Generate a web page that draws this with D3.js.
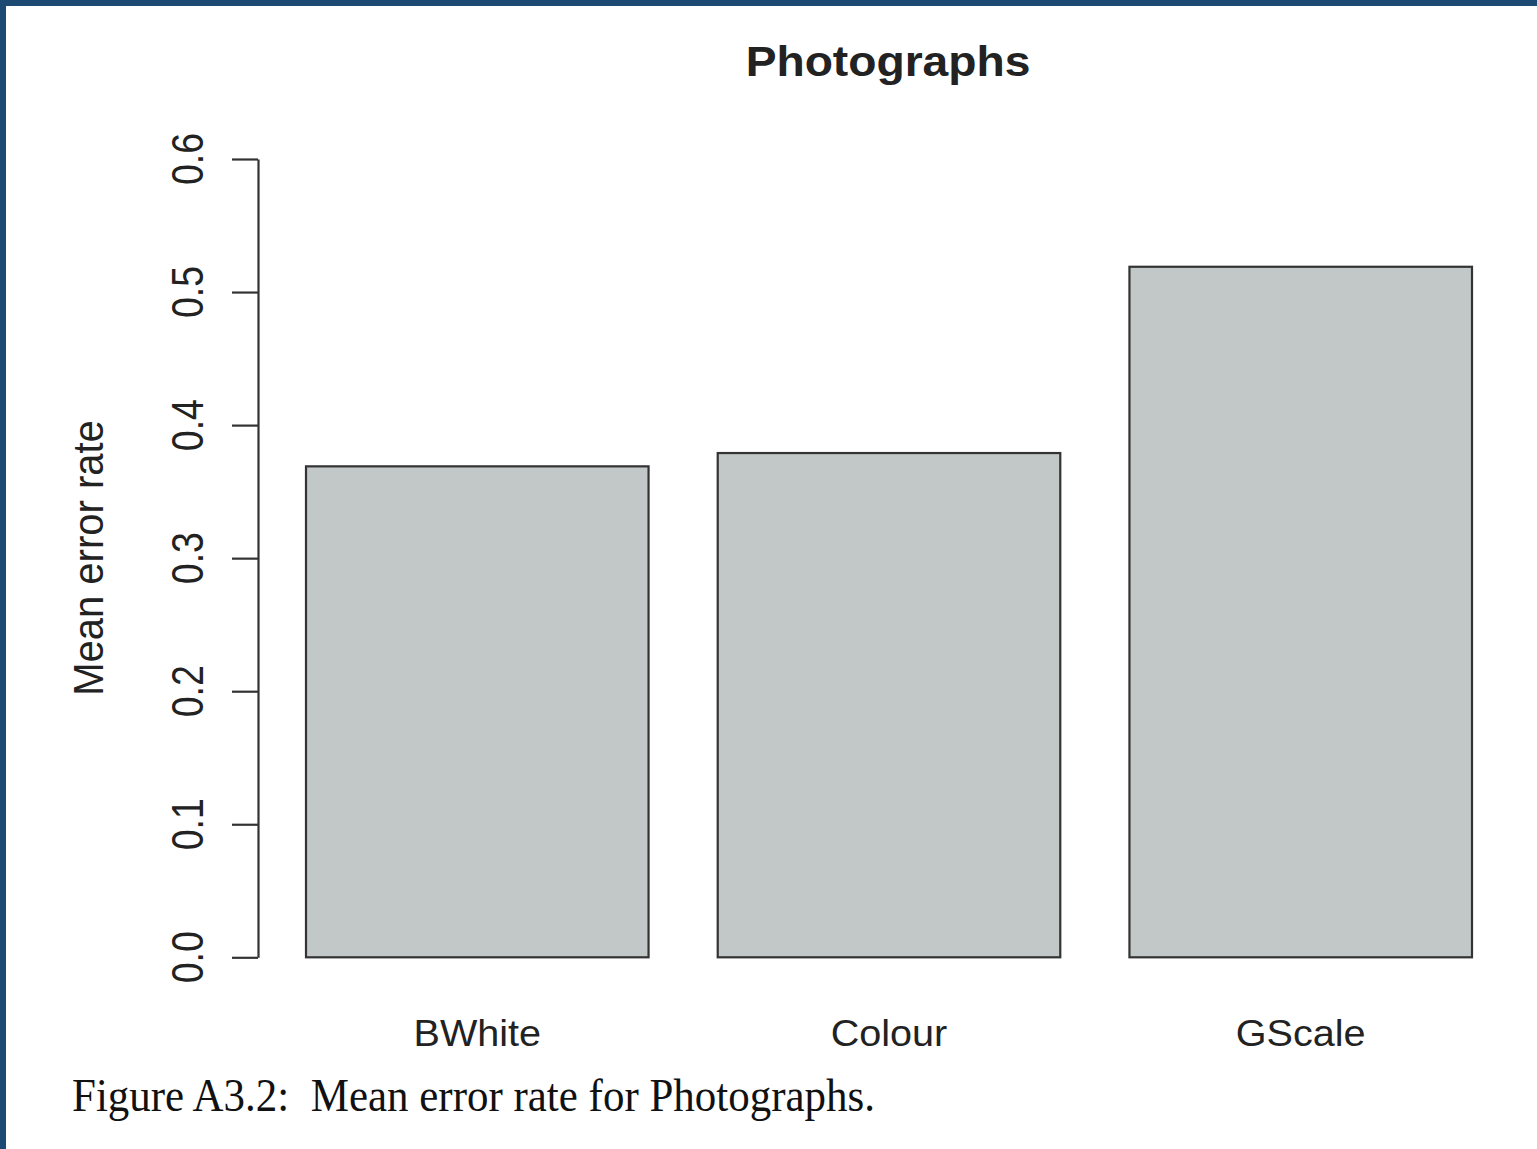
<!DOCTYPE html>
<html>
<head>
<meta charset="utf-8">
<script src="https://cdn.jsdelivr.net/npm/d3@7/dist/d3.min.js"></script>
<style>
  html, body { margin: 0; padding: 0; background: #ffffff; }
  svg { display: block; }
</style>
</head>
<body>
<svg id="chart" width="1537" height="1149"></svg>
<script>
// Mean error rate per photograph type
const categories = ["BWhite", "Colour", "GScale"];
const meanError = [0.369, 0.379, 0.519];
const yTicks = [0.0, 0.1, 0.2, 0.3, 0.4, 0.5, 0.6];
const titleText = "Photographs";
const yLabel = "Mean error rate";
const captionText = "Figure A3.2:  Mean error rate for Photographs.";

const svg = d3.select("#chart");
const W = 1537, H = 1149;
const ink = "#222222";

svg.append("rect").attr("width", W).attr("height", H).attr("fill", "#ffffff");

// page frame along the top and left edges
svg.append("rect").attr("x", 0).attr("y", 0).attr("width", W).attr("height", 6).attr("fill", "#1d4a72");
svg.append("rect").attr("x", 0).attr("y", 0).attr("width", 6).attr("height", H).attr("fill", "#1d4a72");

const x = d3.scaleBand()
  .domain(categories)
  .range([306, 1472])
  .paddingInner(0.168)
  .paddingOuter(0);

const y = d3.scaleLinear().domain([0, 0.6]).range([957.3, 159]);

// bars
svg.append("g").selectAll("rect")
  .data(categories.map((c, i) => ({ c, v: meanError[i] })))
  .join("rect")
  .attr("x", d => x(d.c))
  .attr("y", d => y(d.v))
  .attr("width", x.bandwidth())
  .attr("height", d => y(0) - y(d.v))
  .attr("fill", "#c2c7c7")
  .attr("stroke", "#333333")
  .attr("stroke-width", 2.2);

// y axis (line + ticks), labels drawn separately
const axisX = 258;
const yAxis = d3.axisLeft(y).tickValues(yTicks).tickSize(26).tickSizeOuter(0).tickFormat("");
const ag = svg.append("g").attr("transform", `translate(${axisX},0)`).call(yAxis);
ag.select(".domain").attr("stroke", "#333333").attr("stroke-width", 2.2);
ag.selectAll(".tick line").attr("stroke", "#333333").attr("stroke-width", 2.2);

// rotated tick labels
svg.append("g").selectAll("text")
  .data(yTicks)
  .join("text")
  .attr("transform", d => `translate(203,${y(d)}) scale(1.2,1) rotate(-90)`)
  .attr("text-anchor", "middle")
  .attr("font-family", "'Liberation Sans', Arial, sans-serif")
  .attr("font-size", 37.5)
  .attr("fill", ink)
  .text(d => d3.format(".1f")(d));

// y axis title
svg.append("text")
  .attr("transform", `translate(103,558) scale(1.08,1) rotate(-90)`)
  .attr("text-anchor", "middle")
  .attr("font-family", "'Liberation Sans', Arial, sans-serif")
  .attr("font-size", 40)
  .attr("fill", ink)
  .text(yLabel);

// category labels
svg.append("g").selectAll("text")
  .data(categories)
  .join("text")
  .attr("transform", d => `translate(${x(d) + x.bandwidth() / 2},1046) scale(1.07,1)`)
  .attr("text-anchor", "middle")
  .attr("font-family", "'Liberation Sans', Arial, sans-serif")
  .attr("font-size", 37)
  .attr("fill", ink)
  .text(d => d);

// chart title
svg.append("text")
  .attr("transform", `translate(888,76) scale(1.1,1)`)
  .attr("text-anchor", "middle")
  .attr("font-family", "'Liberation Sans', Arial, sans-serif")
  .attr("font-weight", "bold")
  .attr("font-size", 42)
  .attr("fill", ink)
  .text(titleText);

// figure caption
svg.append("text")
  .attr("x", 72)
  .attr("y", 1111)
  .attr("font-family", "'Liberation Serif', 'Times New Roman', serif")
  .attr("font-size", 46)
  .attr("fill", "#111111")
  .attr("textLength", 803)
  .attr("lengthAdjust", "spacingAndGlyphs")
  .style("white-space", "pre")
  .text(captionText);
</script>
</body>
</html>
